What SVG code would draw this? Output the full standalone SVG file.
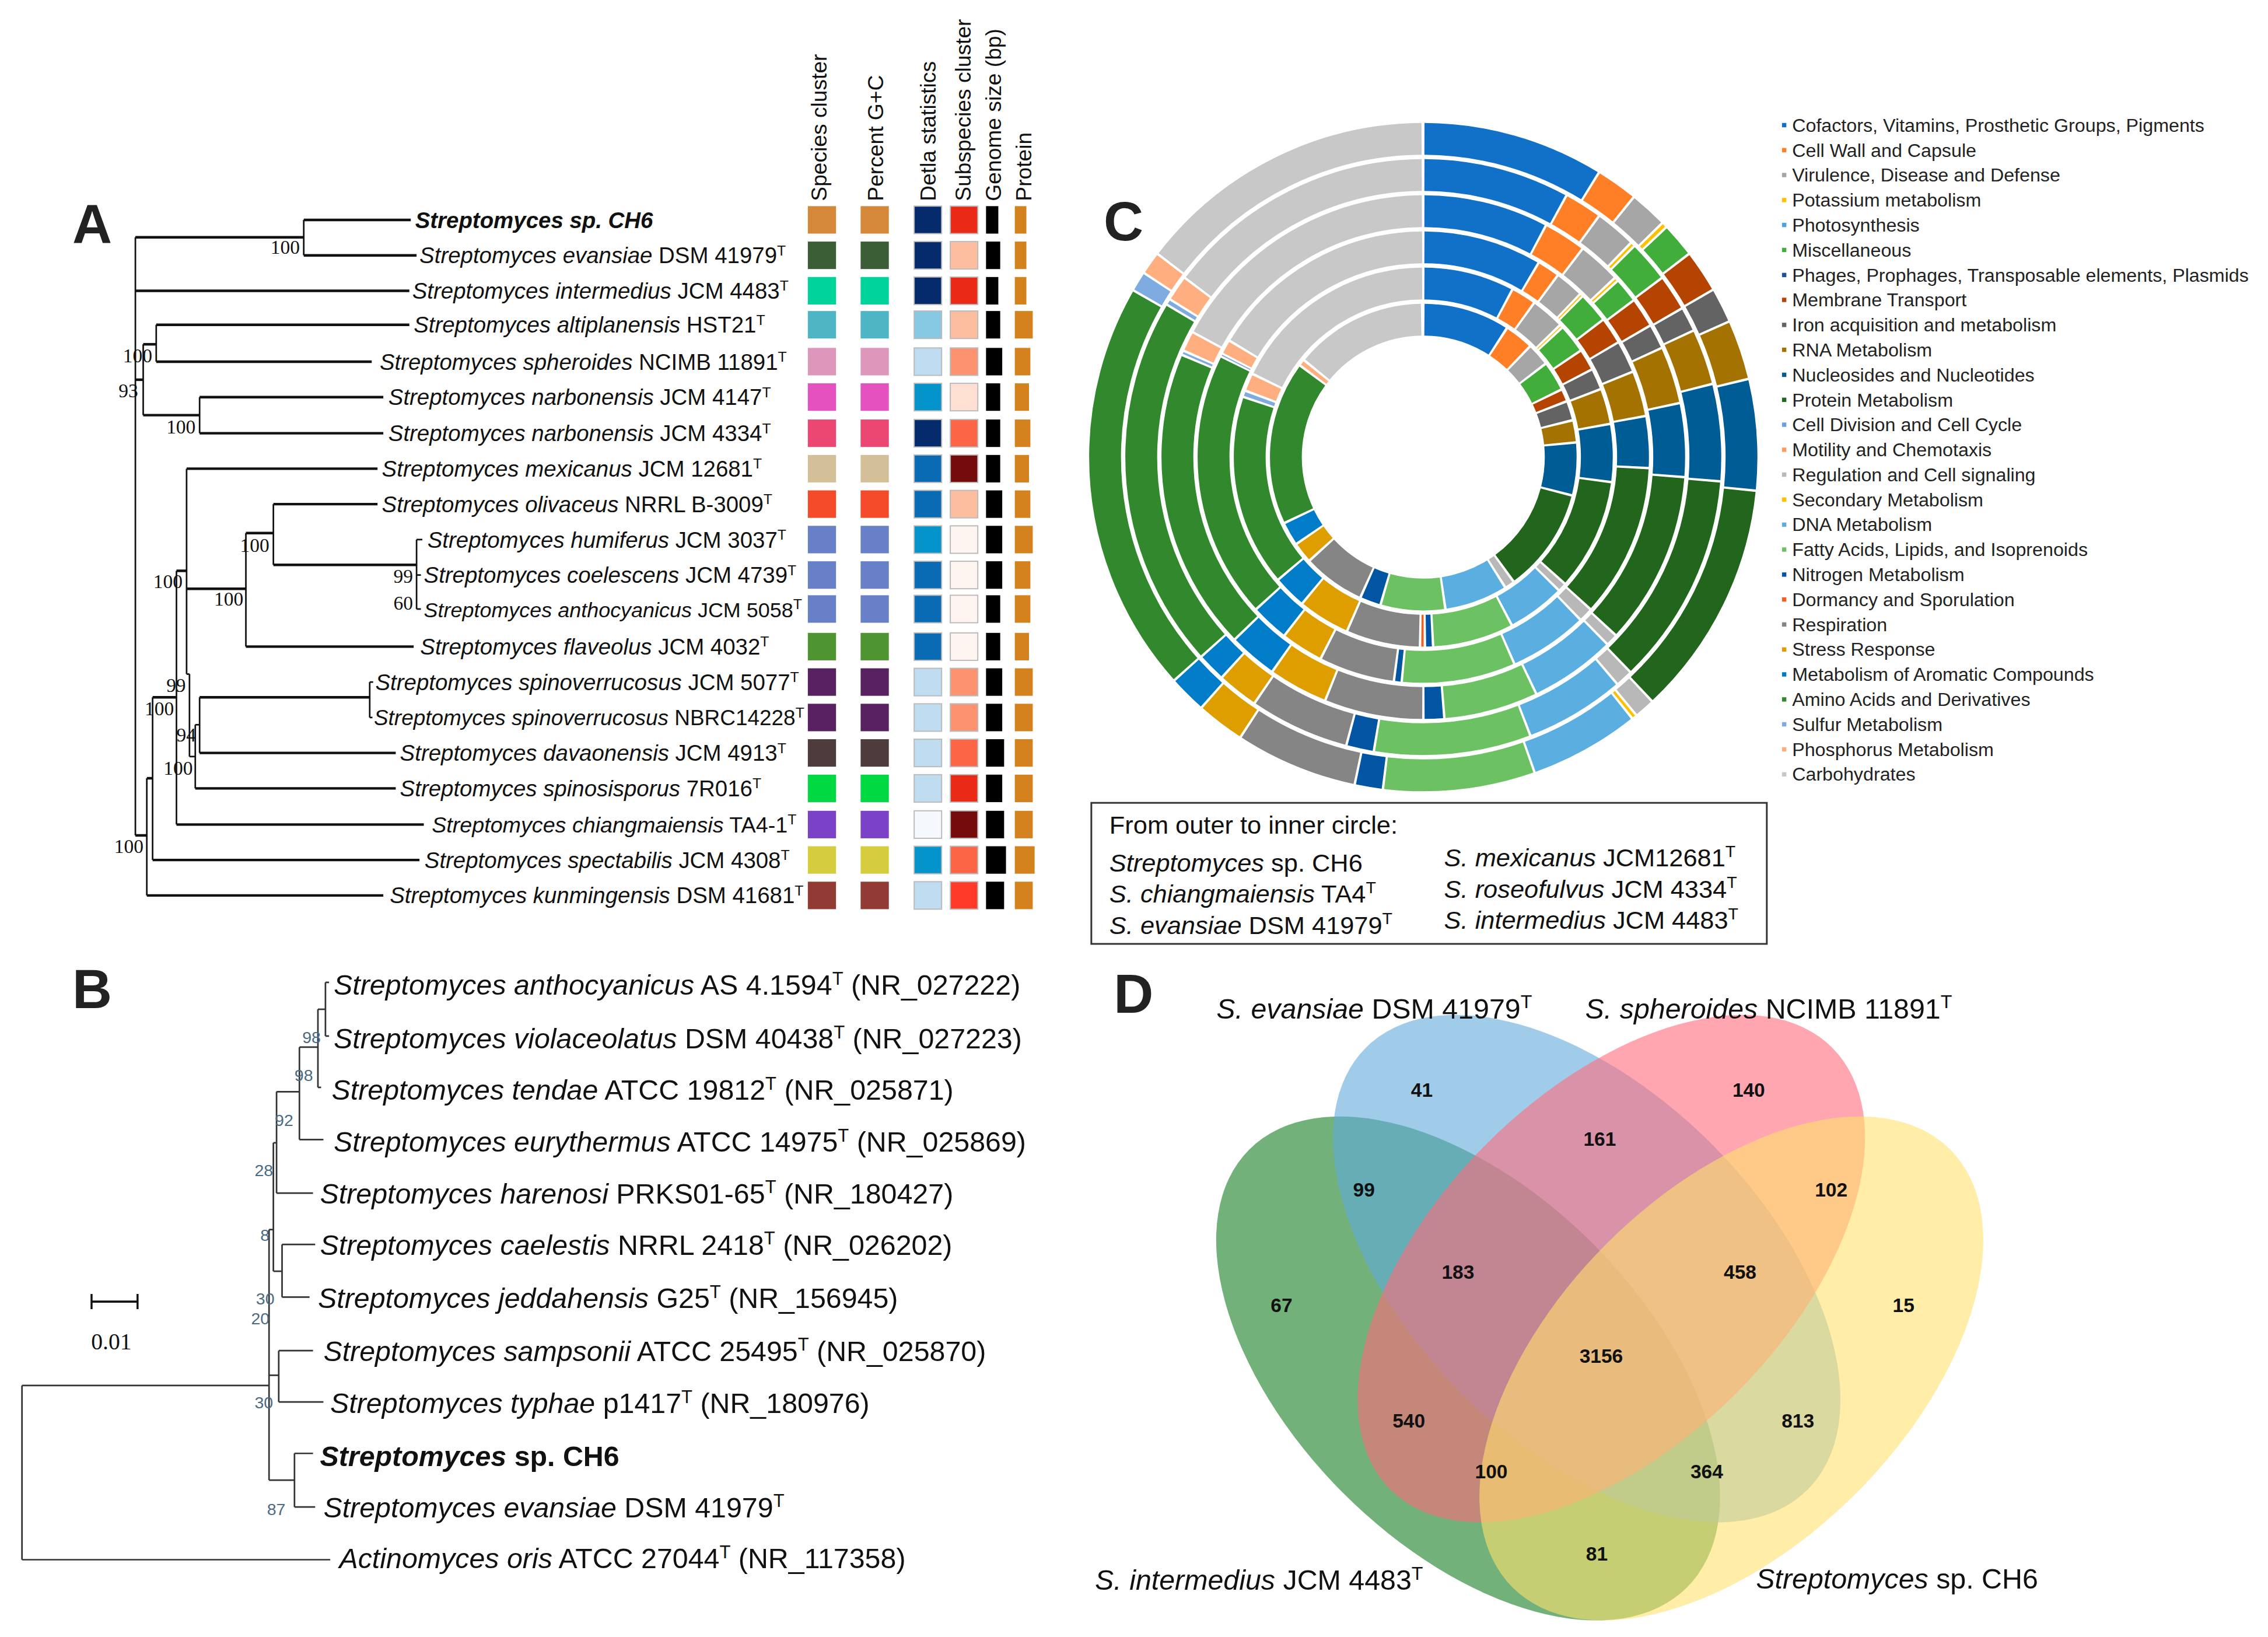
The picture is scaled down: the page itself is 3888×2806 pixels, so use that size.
<svg xmlns="http://www.w3.org/2000/svg" width="3888" height="2806" viewBox="0 0 3888 2806">
<style>
text{font-family:"Liberation Sans",Arial,sans-serif;fill:#111}
text.serif,.bs text{font-family:"Liberation Serif","Times New Roman",serif}
.i{font-style:italic}
.b{font-weight:bold}
.lbl{font-size:38px;font-weight:bold}
text.lbl{fill:#222}
.ta{font-size:15.5px}
.tb{font-size:19.5px}
.hdr{font-size:15px}
.bs{font-size:13.5px}
.bsb{font-size:11.5px}
.bsb text{fill:#4a6a85}
.lg{font-size:13px}
.lg text{fill:#222}
.bx{font-size:17.5px}
.vl{font-size:19.5px}
.vn{font-size:13.5px;font-weight:bold;text-anchor:middle}
.supA{font-size:10px}
.supB{font-size:12.5px}
.trA line{stroke:#111;stroke-width:1.8}
.trA line.v{stroke-width:1.1}
.trB line{stroke:#333;stroke-width:1.1}
.ring circle{fill:none;stroke-width:22}
.cof{stroke:#1170C8}.cw{stroke:#FF7F27}.vir{stroke:#A6A6A6}.pot{stroke:#FFC000}.misc{stroke:#41AD3A}
.mem{stroke:#B54400}.iron{stroke:#636363}.rna{stroke:#A47200}.nuc{stroke:#005C95}.prot{stroke:#22661E}
.reg{stroke:#B8B8B8}.sec{stroke:#FFC000}.dna{stroke:#5BAFE0}.fatty{stroke:#6CC162}.nitro{stroke:#0255A3}
.dorm{stroke:#F06020}.resp{stroke:#858585}.stress{stroke:#DE9E00}.arom{stroke:#007CC9}.amino{stroke:#32882D}
.sulf{stroke:#7EABE0}.phos{stroke:#FFAE80}.carb{stroke:#C8C8C8}
.cellb{stroke:#bbb;stroke-width:0.8}
</style>
<rect width="3888" height="2806" fill="#fff"/>
<g transform="scale(2.47959)">

<!-- ================= PANEL A ================= -->
<g id="panelA">
<text class="lbl" x="50" y="168">A</text>
<g id="A-connectors" class="trA">
<line class="v" x1="93.6" y1="164" x2="93.6" y2="577.5"/>
<line x1="93.6" y1="164" x2="210" y2="164"/>
<line class="v" x1="210" y1="152" x2="210" y2="176.5"/>
<line x1="210" y1="152" x2="284" y2="152"/>
<line x1="210" y1="176.5" x2="288" y2="176.5"/>
<line x1="93.6" y1="201" x2="283" y2="201"/>
<line x1="93.6" y1="262.5" x2="99" y2="262.5"/>
<line class="v" x1="99" y1="238" x2="99" y2="287"/>
<line x1="99" y1="238" x2="108" y2="238"/>
<line class="v" x1="108" y1="224.5" x2="108" y2="250"/>
<line x1="108" y1="224.5" x2="283" y2="224.5"/>
<line x1="108" y1="250" x2="257" y2="250"/>
<line x1="99" y1="287" x2="138" y2="287"/>
<line class="v" x1="138" y1="274.5" x2="138" y2="299.5"/>
<line x1="138" y1="274.5" x2="265" y2="274.5"/>
<line x1="138" y1="299.5" x2="265" y2="299.5"/>
<line x1="93.6" y1="577.5" x2="101.5" y2="577.5"/>
<line class="v" x1="101.5" y1="538" x2="101.5" y2="619"/>
<line x1="101.5" y1="619" x2="265" y2="619"/>
<line x1="101.5" y1="538" x2="105.5" y2="538"/>
<line class="v" x1="105.5" y1="482" x2="105.5" y2="594.5"/>
<line x1="105.5" y1="594.5" x2="290" y2="594.5"/>
<line x1="105.5" y1="482" x2="122" y2="482"/>
<line class="v" x1="122" y1="394.6" x2="122" y2="570"/>
<line x1="122" y1="570" x2="293" y2="570"/>
<line x1="122" y1="394.6" x2="129" y2="394.6"/>
<line class="v" x1="129" y1="324" x2="129" y2="466"/>
<line x1="129" y1="324" x2="261" y2="324"/>
<line x1="129" y1="407" x2="170" y2="407"/>
<line class="v" x1="170" y1="368.5" x2="170" y2="447"/>
<line x1="170" y1="447" x2="286" y2="447"/>
<line x1="170" y1="368.5" x2="189" y2="368.5"/>
<line class="v" x1="189" y1="348.5" x2="189" y2="390.5"/>
<line x1="189" y1="348.5" x2="261" y2="348.5"/>
<line x1="189" y1="390.5" x2="288" y2="390.5"/>
<line class="v" x1="288" y1="373" x2="288" y2="421"/>
<line class="v" x1="288" y1="373" x2="292" y2="373"/>
<line class="v" x1="288" y1="397.5" x2="291" y2="397.5"/>
<line class="v" x1="288" y1="421" x2="291" y2="421"/>
<line class="v" x1="129" y1="466" x2="131" y2="466"/>
<line class="v" x1="131" y1="466" x2="131" y2="523"/>
<line class="v" x1="131" y1="523" x2="135" y2="523"/>
<line class="v" x1="135" y1="501" x2="135" y2="545"/>
<line x1="135" y1="545" x2="273.6" y2="545"/>
<line class="v" x1="135" y1="501" x2="138" y2="501"/>
<line class="v" x1="138" y1="482" x2="138" y2="520.5"/>
<line x1="138" y1="482" x2="255.6" y2="482"/>
<line x1="138" y1="520.5" x2="273.6" y2="520.5"/>
<line class="v" x1="255.6" y1="471.5" x2="255.6" y2="496"/>
<line class="v" x1="255.6" y1="471.5" x2="258" y2="471.5"/>
<line class="v" x1="255.6" y1="496" x2="257.5" y2="496"/>
</g>
<g id="A-bootstrap" class="bs">
<text x="187" y="175.5">100</text>
<text x="85" y="250.5">100</text>
<text x="82" y="274.5">93</text>
<text x="115" y="299.5">100</text>
<text x="166" y="381.5">100</text>
<text x="272" y="403">99</text>
<text x="272" y="421.5">60</text>
<text x="106" y="406.5">100</text>
<text x="148" y="418.5">100</text>
<text x="115" y="478.5">99</text>
<text x="100" y="494.5">100</text>
<text x="122" y="512.5">94</text>
<text x="113" y="535.5">100</text>
<text x="79" y="589.5">100</text>
</g>
<g id="A-leaves" class="ta">
<text x="287" y="157.5" class="b i">Streptomyces sp. CH6</text>
<text x="290" y="182"><tspan class="i">Streptomyces evansiae</tspan> DSM 41979<tspan class="supA" dy="-5.5">T</tspan></text>
<text x="285" y="206.5"><tspan class="i">Streptomyces intermedius</tspan> JCM 4483<tspan class="supA" dy="-5.5">T</tspan></text>
<text x="286" y="230"><tspan class="i">Streptomyces altiplanensis</tspan> HST21<tspan class="supA" dy="-5.5">T</tspan></text>
<text x="262.5" y="255.5"><tspan class="i">Streptomyces spheroides</tspan> NCIMB 11891<tspan class="supA" dy="-5.5">T</tspan></text>
<text x="268.5" y="280"><tspan class="i">Streptomyces narbonensis</tspan> JCM 4147<tspan class="supA" dy="-5.5">T</tspan></text>
<text x="268.5" y="305"><tspan class="i">Streptomyces narbonensis</tspan> JCM 4334<tspan class="supA" dy="-5.5">T</tspan></text>
<text x="264" y="329.5"><tspan class="i">Streptomyces mexicanus</tspan> JCM 12681<tspan class="supA" dy="-5.5">T</tspan></text>
<text x="264" y="354"><tspan class="i">Streptomyces olivaceus</tspan> NRRL B-3009<tspan class="supA" dy="-5.5">T</tspan></text>
<text x="295.5" y="378.5"><tspan class="i">Streptomyces humiferus</tspan> JCM 3037<tspan class="supA" dy="-5.5">T</tspan></text>
<text x="293" y="403"><tspan class="i">Streptomyces coelescens</tspan> JCM 4739<tspan class="supA" dy="-5.5">T</tspan></text>
<text x="293" y="426.5" font-size="14.5"><tspan class="i">Streptomyces anthocyanicus</tspan> JCM 5058<tspan class="supA" dy="-5.5">T</tspan></text>
<text x="290.5" y="452.5"><tspan class="i">Streptomyces flaveolus</tspan> JCM 4032<tspan class="supA" dy="-5.5">T</tspan></text>
<text x="259.5" y="477"><tspan class="i">Streptomyces spinoverrucosus</tspan> JCM 5077<tspan class="supA" dy="-5.5">T</tspan></text>
<text x="258.5" y="501.5" font-size="14.9"><tspan class="i">Streptomyces spinoverrucosus</tspan> NBRC14228<tspan class="supA" dy="-5.5">T</tspan></text>
<text x="276.5" y="526"><tspan class="i">Streptomyces davaonensis</tspan> JCM 4913<tspan class="supA" dy="-5.5">T</tspan></text>
<text x="276.5" y="550.5"><tspan class="i">Streptomyces spinosisporus</tspan> 7R016<tspan class="supA" dy="-5.5">T</tspan></text>
<text x="298.5" y="575.5" font-size="15.2"><tspan class="i">Streptomyces chiangmaiensis</tspan> TA4-1<tspan class="supA" dy="-5.5">T</tspan></text>
<text x="293.5" y="600"><tspan class="i">Streptomyces spectabilis</tspan> JCM 4308<tspan class="supA" dy="-5.5">T</tspan></text>
<text x="269.5" y="624.5"><tspan class="i">Streptomyces kunmingensis</tspan> DSM 41681<tspan class="supA" dy="-5.5">T</tspan></text>
</g>
<g id="A-headers" class="hdr">
<text transform="translate(571.5,139) rotate(-90)">Species cluster</text>
<text transform="translate(610.5,139) rotate(-90)">Percent G+C</text>
<text transform="translate(647,139) rotate(-90)">Detla statistics</text>
<text transform="translate(671,139) rotate(-90)">Subspecies cluster</text>
<text transform="translate(692,139) rotate(-90)">Genome size (bp)</text>
<text transform="translate(713,139) rotate(-90)">Protein</text>
</g>
<g id="A-species-cluster">
<rect x="558.5" y="142.5" width="19.5" height="19" fill="#D5873A"/>
<rect x="558.5" y="167" width="19.5" height="19" fill="#3C5E36"/>
<rect x="558.5" y="191.5" width="19.5" height="19" fill="#00D39A"/>
<rect x="558.5" y="215" width="19.5" height="19" fill="#4DB5C3"/>
<rect x="558.5" y="240.5" width="19.5" height="19" fill="#DC97BB"/>
<rect x="558.5" y="265" width="19.5" height="19" fill="#E552C0"/>
<rect x="558.5" y="290" width="19.5" height="19" fill="#EC4672"/>
<rect x="558.5" y="314.5" width="19.5" height="19" fill="#D4C098"/>
<rect x="558.5" y="339" width="19.5" height="19" fill="#F64B2B"/>
<rect x="558.5" y="363.5" width="19.5" height="19" fill="#6880C7"/>
<rect x="558.5" y="388" width="19.5" height="19" fill="#6880C7"/>
<rect x="558.5" y="411.5" width="19.5" height="19" fill="#6880C7"/>
<rect x="558.5" y="437.5" width="19.5" height="19" fill="#4E9430"/>
<rect x="558.5" y="462" width="19.5" height="19" fill="#57225F"/>
<rect x="558.5" y="486.5" width="19.5" height="19" fill="#57225F"/>
<rect x="558.5" y="511" width="19.5" height="19" fill="#4D3C3B"/>
<rect x="558.5" y="535.5" width="19.5" height="19" fill="#00D942"/>
<rect x="558.5" y="560.5" width="19.5" height="19" fill="#7B42C8"/>
<rect x="558.5" y="585" width="19.5" height="19" fill="#D5CD3E"/>
<rect x="558.5" y="609.5" width="19.5" height="19" fill="#923B34"/>
</g>
<g id="A-gc">
<rect x="595" y="142.5" width="19.5" height="19" fill="#D5873A"/>
<rect x="595" y="167" width="19.5" height="19" fill="#3C5E36"/>
<rect x="595" y="191.5" width="19.5" height="19" fill="#00D39A"/>
<rect x="595" y="215" width="19.5" height="19" fill="#4DB5C3"/>
<rect x="595" y="240.5" width="19.5" height="19" fill="#DC97BB"/>
<rect x="595" y="265" width="19.5" height="19" fill="#E552C0"/>
<rect x="595" y="290" width="19.5" height="19" fill="#EC4672"/>
<rect x="595" y="314.5" width="19.5" height="19" fill="#D4C098"/>
<rect x="595" y="339" width="19.5" height="19" fill="#F64B2B"/>
<rect x="595" y="363.5" width="19.5" height="19" fill="#6880C7"/>
<rect x="595" y="388" width="19.5" height="19" fill="#6880C7"/>
<rect x="595" y="411.5" width="19.5" height="19" fill="#6880C7"/>
<rect x="595" y="437.5" width="19.5" height="19" fill="#4E9430"/>
<rect x="595" y="462" width="19.5" height="19" fill="#57225F"/>
<rect x="595" y="486.5" width="19.5" height="19" fill="#57225F"/>
<rect x="595" y="511" width="19.5" height="19" fill="#4D3C3B"/>
<rect x="595" y="535.5" width="19.5" height="19" fill="#00D942"/>
<rect x="595" y="560.5" width="19.5" height="19" fill="#7B42C8"/>
<rect x="595" y="585" width="19.5" height="19" fill="#D5CD3E"/>
<rect x="595" y="609.5" width="19.5" height="19" fill="#923B34"/>
</g>
<g id="A-delta" class="cellb">
<rect x="632" y="142.5" width="19" height="19" fill="#062B6C"/>
<rect x="632" y="167" width="19" height="19" fill="#062B6C"/>
<rect x="632" y="191.5" width="19" height="19" fill="#062B6C"/>
<rect x="632" y="215" width="19" height="19" fill="#87C8E2"/>
<rect x="632" y="240.5" width="19" height="19" fill="#BFDCF0"/>
<rect x="632" y="265" width="19" height="19" fill="#0294CB"/>
<rect x="632" y="290" width="19" height="19" fill="#062B6C"/>
<rect x="632" y="314.5" width="19" height="19" fill="#0A6BB5"/>
<rect x="632" y="339" width="19" height="19" fill="#0A6BB5"/>
<rect x="632" y="363.5" width="19" height="19" fill="#0294CB"/>
<rect x="632" y="388" width="19" height="19" fill="#0A6BB5"/>
<rect x="632" y="411.5" width="19" height="19" fill="#0A6BB5"/>
<rect x="632" y="437.5" width="19" height="19" fill="#0A6BB5"/>
<rect x="632" y="462" width="19" height="19" fill="#BFDCF0"/>
<rect x="632" y="486.5" width="19" height="19" fill="#BFDCF0"/>
<rect x="632" y="511" width="19" height="19" fill="#BFDCF0"/>
<rect x="632" y="535.5" width="19" height="19" fill="#BFDCF0"/>
<rect x="632" y="560.5" width="19" height="19" fill="#F5F9FD"/>
<rect x="632" y="585" width="19" height="19" fill="#0294CB"/>
<rect x="632" y="609.5" width="19" height="19" fill="#BFDCF0"/>
</g>
<g id="A-subspecies" class="cellb">
<rect x="657" y="142.5" width="19" height="19" fill="#EA2A16"/>
<rect x="657" y="167" width="19" height="19" fill="#FDBEA0"/>
<rect x="657" y="191.5" width="19" height="19" fill="#EA2A16"/>
<rect x="657" y="215" width="19" height="19" fill="#FDBEA0"/>
<rect x="657" y="240.5" width="19" height="19" fill="#FC926F"/>
<rect x="657" y="265" width="19" height="19" fill="#FEE0D2"/>
<rect x="657" y="290" width="19" height="19" fill="#FC6647"/>
<rect x="657" y="314.5" width="19" height="19" fill="#750B0B"/>
<rect x="657" y="339" width="19" height="19" fill="#FDBEA0"/>
<rect x="657" y="363.5" width="19" height="19" fill="#FFF5F0"/>
<rect x="657" y="388" width="19" height="19" fill="#FFF5F0"/>
<rect x="657" y="411.5" width="19" height="19" fill="#FFF5F0"/>
<rect x="657" y="437.5" width="19" height="19" fill="#FFF5F0"/>
<rect x="657" y="462" width="19" height="19" fill="#FC926F"/>
<rect x="657" y="486.5" width="19" height="19" fill="#FC926F"/>
<rect x="657" y="511" width="19" height="19" fill="#FC6647"/>
<rect x="657" y="535.5" width="19" height="19" fill="#EA2A16"/>
<rect x="657" y="560.5" width="19" height="19" fill="#750B0B"/>
<rect x="657" y="585" width="19" height="19" fill="#FC6647"/>
<rect x="657" y="609.5" width="19" height="19" fill="#FF3A28"/>
</g>
<g id="A-genome" fill="#000">
<rect x="681.7" y="142.5" width="8.5" height="19"/>
<rect x="681.7" y="167" width="9.8" height="19"/>
<rect x="681.7" y="191.5" width="8.5" height="19"/>
<rect x="681.7" y="215" width="9.8" height="19"/>
<rect x="681.7" y="240.5" width="11.2" height="19"/>
<rect x="681.7" y="265" width="9.8" height="19"/>
<rect x="681.7" y="290" width="9.8" height="19"/>
<rect x="681.7" y="314.5" width="9.8" height="19"/>
<rect x="681.7" y="339" width="11.2" height="19"/>
<rect x="681.7" y="363.5" width="11.2" height="19"/>
<rect x="681.7" y="388" width="11.2" height="19"/>
<rect x="681.7" y="411.5" width="9.8" height="19"/>
<rect x="681.7" y="437.5" width="9.8" height="19"/>
<rect x="681.7" y="462" width="11.2" height="19"/>
<rect x="681.7" y="486.5" width="11.2" height="19"/>
<rect x="681.7" y="511" width="12.5" height="19"/>
<rect x="681.7" y="535.5" width="11.2" height="19"/>
<rect x="681.7" y="560.5" width="12.5" height="19"/>
<rect x="681.7" y="585" width="13.8" height="19"/>
<rect x="681.7" y="609.5" width="12.5" height="19"/>
</g>
<g id="A-protein" fill="#D4821E">
<rect x="701.6" y="142.5" width="8" height="19"/>
<rect x="701.6" y="167" width="8" height="19"/>
<rect x="701.6" y="191.5" width="8" height="19"/>
<rect x="701.6" y="215" width="12.4" height="19"/>
<rect x="701.6" y="240.5" width="10.75" height="19"/>
<rect x="701.6" y="265" width="9.8" height="19"/>
<rect x="701.6" y="290" width="10.75" height="19"/>
<rect x="701.6" y="314.5" width="9.8" height="19"/>
<rect x="701.6" y="339" width="10.75" height="19"/>
<rect x="701.6" y="363.5" width="12.4" height="19"/>
<rect x="701.6" y="388" width="10.75" height="19"/>
<rect x="701.6" y="411.5" width="10.75" height="19"/>
<rect x="701.6" y="437.5" width="9.8" height="19"/>
<rect x="701.6" y="462" width="12.4" height="19"/>
<rect x="701.6" y="486.5" width="12.4" height="19"/>
<rect x="701.6" y="511" width="12.4" height="19"/>
<rect x="701.6" y="535.5" width="12.4" height="19"/>
<rect x="701.6" y="560.5" width="12.4" height="19"/>
<rect x="701.6" y="585" width="13.7" height="19"/>
<rect x="701.6" y="609.5" width="12.4" height="19"/>
</g>
</g>

<!-- ================= PANEL B ================= -->
<g id="panelB">
<text class="lbl" x="50" y="697">B</text>
<g id="B-connectors" class="trB">
<line x1="15.2" y1="957.8" x2="186" y2="957.8"/>
<line x1="15.2" y1="957.8" x2="15.2" y2="1078.2"/>
<line x1="15.2" y1="1078.2" x2="228.3" y2="1078.2"/>
<line x1="186" y1="850" x2="186" y2="1023.2"/>
<line x1="186" y1="1023.2" x2="203.6" y2="1023.2"/>
<line x1="203.6" y1="1004.7" x2="203.6" y2="1041.8"/>
<line x1="203.6" y1="1004.7" x2="216.4" y2="1004.7"/>
<line x1="203.6" y1="1041.8" x2="217.9" y2="1041.8"/>
<line x1="186" y1="950.7" x2="192.7" y2="950.7"/>
<line x1="192.7" y1="933.7" x2="192.7" y2="969.2"/>
<line x1="192.7" y1="933.7" x2="216.4" y2="933.7"/>
<line x1="192.7" y1="969.2" x2="223.6" y2="969.2"/>
<line x1="186" y1="850" x2="189" y2="850"/>
<line x1="189" y1="790" x2="189" y2="878.8" stroke-width="1.8"/>
<line x1="189" y1="878.8" x2="195" y2="878.8"/>
<line x1="195" y1="860.3" x2="195" y2="896.7"/>
<line x1="195" y1="860.3" x2="217.9" y2="860.3"/>
<line x1="195" y1="896.7" x2="214" y2="896.7"/>
<line x1="189" y1="790" x2="191.2" y2="790"/>
<line x1="191.2" y1="754.7" x2="191.2" y2="824.8"/>
<line x1="191.2" y1="824.8" x2="216.4" y2="824.8"/>
<line x1="191.2" y1="754.7" x2="207" y2="754.7"/>
<line x1="207" y1="723.9" x2="207" y2="787.8"/>
<line x1="207" y1="787.8" x2="223.6" y2="787.8"/>
<line x1="207" y1="723.9" x2="219.8" y2="723.9"/>
<line x1="219.8" y1="697.7" x2="219.8" y2="751.7"/>
<line x1="219.8" y1="751.7" x2="222" y2="751.7"/>
<line x1="219.8" y1="697.7" x2="225" y2="697.7"/>
<line x1="225" y1="679.1" x2="225" y2="716.2"/>
<line x1="225" y1="679.1" x2="227.5" y2="679.1"/>
<line x1="225" y1="716.2" x2="227.5" y2="716.2"/>
</g>
<g id="B-scale">
<line x1="63.3" y1="899.8" x2="95.1" y2="899.8" stroke="#111" stroke-width="1.6"/>
<line x1="63.3" y1="894.5" x2="63.3" y2="905" stroke="#111" stroke-width="1.4"/>
<line x1="95.1" y1="894.5" x2="95.1" y2="905" stroke="#111" stroke-width="1.4"/>
<text class="serif" x="63" y="933" font-size="16">0.01</text>
</g>
<g id="B-bootstrap" class="bsb">
<text x="209" y="721">98</text>
<text x="203.6" y="747.5">98</text>
<text x="190" y="778.4">92</text>
<text x="176" y="813">28</text>
<text x="180" y="857.7">8</text>
<text x="177" y="901.8">30</text>
<text x="173.6" y="915.4">20</text>
<text x="176" y="973.4">30</text>
<text x="184.6" y="1047.5">87</text>
</g>
<g id="B-leaves" class="tb">
<text x="230.7" y="687.7"><tspan class="i">Streptomyces anthocyanicus</tspan> AS 4.1594<tspan class="supB" dy="-7">T</tspan><tspan dy="7"> (NR_027222)</tspan></text>
<text x="230.7" y="724.7"><tspan class="i">Streptomyces violaceolatus</tspan> DSM 40438<tspan class="supB" dy="-7">T</tspan><tspan dy="7"> (NR_027223)</tspan></text>
<text x="229.3" y="760.2"><tspan class="i">Streptomyces tendae</tspan> ATCC 19812<tspan class="supB" dy="-7">T</tspan><tspan dy="7"> (NR_025871)</tspan></text>
<text x="230.7" y="796.3"><tspan class="i">Streptomyces eurythermus</tspan> ATCC 14975<tspan class="supB" dy="-7">T</tspan><tspan dy="7"> (NR_025869)</tspan></text>
<text x="221.2" y="831.8"><tspan class="i">Streptomyces harenosi</tspan> PRKS01-65<tspan class="supB" dy="-7">T</tspan><tspan dy="7"> (NR_180427)</tspan></text>
<text x="221.2" y="867.3"><tspan class="i">Streptomyces caelestis</tspan> NRRL 2418<tspan class="supB" dy="-7">T</tspan><tspan dy="7"> (NR_026202)</tspan></text>
<text x="219.8" y="904.3"><tspan class="i">Streptomyces jeddahensis</tspan> G25<tspan class="supB" dy="-7">T</tspan><tspan dy="7"> (NR_156945)</tspan></text>
<text x="223.6" y="940.7"><tspan class="i">Streptomyces sampsonii</tspan> ATCC 25495<tspan class="supB" dy="-7">T</tspan><tspan dy="7"> (NR_025870)</tspan></text>
<text x="228.3" y="976.8"><tspan class="i">Streptomyces typhae</tspan> p1417<tspan class="supB" dy="-7">T</tspan><tspan dy="7"> (NR_180976)</tspan></text>
<text x="221.2" y="1013.3" class="b"><tspan class="i">Streptomyces</tspan> sp. CH6</text>
<text x="223.6" y="1048.8"><tspan class="i">Streptomyces evansiae</tspan> DSM 41979<tspan class="supB" dy="-7">T</tspan></text>
<text x="234.5" y="1084.2"><tspan class="i">Actinomyces oris</tspan> ATCC 27044<tspan class="supB" dy="-7">T</tspan><tspan dy="7"> (NR_117358)</tspan></text>
</g>
</g>

<!-- ================= PANEL C ================= -->
<g id="panelC">
<text class="lbl" x="763" y="166">C</text>
<g id="donut" class="ring" transform="translate(984,316) rotate(-90)">
<g id="ring0">
<circle r="220" pathLength="360" class="cof" stroke-dasharray="31.28 400" stroke-dashoffset="-0.21"/>
<circle r="220" pathLength="360" class="cw" stroke-dasharray="6.88 400" stroke-dashoffset="-31.91"/>
<circle r="220" pathLength="360" class="vir" stroke-dasharray="6.18 400" stroke-dashoffset="-39.21"/>
<circle r="220" pathLength="360" class="pot" stroke-dasharray="0.58 400" stroke-dashoffset="-45.81"/>
<circle r="220" pathLength="360" class="misc" stroke-dasharray="5.58 400" stroke-dashoffset="-46.81"/>
<circle r="220" pathLength="360" class="mem" stroke-dasharray="6.98 400" stroke-dashoffset="-52.81"/>
<circle r="220" pathLength="360" class="iron" stroke-dasharray="5.68 400" stroke-dashoffset="-60.21"/>
<circle r="220" pathLength="360" class="rna" stroke-dasharray="9.98 400" stroke-dashoffset="-66.31"/>
<circle r="220" pathLength="360" class="nuc" stroke-dasharray="18.88 400" stroke-dashoffset="-76.71"/>
<circle r="220" pathLength="360" class="prot" stroke-dasharray="40.68 400" stroke-dashoffset="-96.01"/>
<circle r="220" pathLength="360" class="reg" stroke-dasharray="3.18 400" stroke-dashoffset="-137.11"/>
<circle r="220" pathLength="360" class="sec" stroke-dasharray="0.48 400" stroke-dashoffset="-140.71"/>
<circle r="220" pathLength="360" class="dna" stroke-dasharray="18.78 400" stroke-dashoffset="-141.61"/>
<circle r="220" pathLength="360" class="fatty" stroke-dasharray="25.98 400" stroke-dashoffset="-160.81"/>
<circle r="220" pathLength="360" class="nitro" stroke-dasharray="4.48 400" stroke-dashoffset="-187.21"/>
<circle r="220" pathLength="360" class="resp" stroke-dasharray="20.88 400" stroke-dashoffset="-192.11"/>
<circle r="220" pathLength="360" class="stress" stroke-dasharray="7.98 400" stroke-dashoffset="-213.41"/>
<circle r="220" pathLength="360" class="arom" stroke-dasharray="6.18 400" stroke-dashoffset="-221.81"/>
<circle r="220" pathLength="360" class="amino" stroke-dasharray="71.38 400" stroke-dashoffset="-228.41"/>
<circle r="220" pathLength="360" class="sulf" stroke-dasharray="3.08 400" stroke-dashoffset="-300.21"/>
<circle r="220" pathLength="360" class="phos" stroke-dasharray="3.58 400" stroke-dashoffset="-303.71"/>
<circle r="220" pathLength="360" class="carb" stroke-dasharray="52.08 400" stroke-dashoffset="-307.71"/>
</g>
<g id="ring1">
<circle r="195" pathLength="360" class="cof" stroke-dasharray="28.23 400" stroke-dashoffset="-0.235"/>
<circle r="195" pathLength="360" class="cw" stroke-dasharray="6.93 400" stroke-dashoffset="-28.935"/>
<circle r="195" pathLength="360" class="vir" stroke-dasharray="7.53 400" stroke-dashoffset="-36.335"/>
<circle r="195" pathLength="360" class="pot" stroke-dasharray="0.43 400" stroke-dashoffset="-44.335"/>
<circle r="195" pathLength="360" class="misc" stroke-dasharray="7.63 400" stroke-dashoffset="-45.235"/>
<circle r="195" pathLength="360" class="mem" stroke-dasharray="6.53 400" stroke-dashoffset="-53.335"/>
<circle r="195" pathLength="360" class="iron" stroke-dasharray="4.33 400" stroke-dashoffset="-60.335"/>
<circle r="195" pathLength="360" class="rna" stroke-dasharray="10.43 400" stroke-dashoffset="-65.135"/>
<circle r="195" pathLength="360" class="nuc" stroke-dasharray="18.43 400" stroke-dashoffset="-76.035"/>
<circle r="195" pathLength="360" class="prot" stroke-dasharray="40.93 400" stroke-dashoffset="-94.935"/>
<circle r="195" pathLength="360" class="reg" stroke-dasharray="2.93 400" stroke-dashoffset="-136.335"/>
<circle r="195" pathLength="360" class="dna" stroke-dasharray="19.03 400" stroke-dashoffset="-139.735"/>
<circle r="195" pathLength="360" class="fatty" stroke-dasharray="30.13 400" stroke-dashoffset="-159.235"/>
<circle r="195" pathLength="360" class="nitro" stroke-dasharray="4.93 400" stroke-dashoffset="-189.835"/>
<circle r="195" pathLength="360" class="resp" stroke-dasharray="19.03 400" stroke-dashoffset="-195.235"/>
<circle r="195" pathLength="360" class="stress" stroke-dasharray="7.53 400" stroke-dashoffset="-214.735"/>
<circle r="195" pathLength="360" class="arom" stroke-dasharray="5.13 400" stroke-dashoffset="-222.735"/>
<circle r="195" pathLength="360" class="amino" stroke-dasharray="72.23 400" stroke-dashoffset="-228.335"/>
<circle r="195" pathLength="360" class="sulf" stroke-dasharray="0.73 400" stroke-dashoffset="-301.035"/>
<circle r="195" pathLength="360" class="phos" stroke-dasharray="4.53 400" stroke-dashoffset="-302.235"/>
<circle r="195" pathLength="360" class="carb" stroke-dasharray="52.53 400" stroke-dashoffset="-307.235"/>
</g>
<g id="ring2">
<circle r="170" pathLength="360" class="cof" stroke-dasharray="27.36 400" stroke-dashoffset="-0.27"/>
<circle r="170" pathLength="360" class="cw" stroke-dasharray="8.96 400" stroke-dashoffset="-28.17"/>
<circle r="170" pathLength="360" class="vir" stroke-dasharray="8.96 400" stroke-dashoffset="-37.67"/>
<circle r="170" pathLength="360" class="pot" stroke-dasharray="0.36 400" stroke-dashoffset="-47.17"/>
<circle r="170" pathLength="360" class="misc" stroke-dasharray="4.96 400" stroke-dashoffset="-48.07"/>
<circle r="170" pathLength="360" class="mem" stroke-dasharray="6.06 400" stroke-dashoffset="-53.57"/>
<circle r="170" pathLength="360" class="iron" stroke-dasharray="4.96 400" stroke-dashoffset="-60.17"/>
<circle r="170" pathLength="360" class="rna" stroke-dasharray="12.16 400" stroke-dashoffset="-65.67"/>
<circle r="170" pathLength="360" class="nuc" stroke-dasharray="15.76 400" stroke-dashoffset="-78.37"/>
<circle r="170" pathLength="360" class="prot" stroke-dasharray="37.86 400" stroke-dashoffset="-94.67"/>
<circle r="170" pathLength="360" class="reg" stroke-dasharray="2.16 400" stroke-dashoffset="-133.07"/>
<circle r="170" pathLength="360" class="dna" stroke-dasharray="18.46 400" stroke-dashoffset="-135.77"/>
<circle r="170" pathLength="360" class="fatty" stroke-dasharray="20.36 400" stroke-dashoffset="-154.77"/>
<circle r="170" pathLength="360" class="nitro" stroke-dasharray="4.06 400" stroke-dashoffset="-175.67"/>
<circle r="170" pathLength="360" class="resp" stroke-dasharray="21.46 400" stroke-dashoffset="-180.27"/>
<circle r="170" pathLength="360" class="stress" stroke-dasharray="12.66 400" stroke-dashoffset="-202.27"/>
<circle r="170" pathLength="360" class="arom" stroke-dasharray="10.26 400" stroke-dashoffset="-215.47"/>
<circle r="170" pathLength="360" class="amino" stroke-dasharray="66.46 400" stroke-dashoffset="-226.27"/>
<circle r="170" pathLength="360" class="sulf" stroke-dasharray="0.46 400" stroke-dashoffset="-293.27"/>
<circle r="170" pathLength="360" class="phos" stroke-dasharray="3.96 400" stroke-dashoffset="-294.27"/>
<circle r="170" pathLength="360" class="carb" stroke-dasharray="60.96 400" stroke-dashoffset="-298.77"/>
</g>
<g id="ring3">
<circle r="145" pathLength="360" class="cof" stroke-dasharray="30.07 400" stroke-dashoffset="-0.315"/>
<circle r="145" pathLength="360" class="cw" stroke-dasharray="5.17 400" stroke-dashoffset="-31.015"/>
<circle r="145" pathLength="360" class="vir" stroke-dasharray="6.77 400" stroke-dashoffset="-36.815"/>
<circle r="145" pathLength="360" class="pot" stroke-dasharray="0.3 400" stroke-dashoffset="-44.15"/>
<circle r="145" pathLength="360" class="misc" stroke-dasharray="7.27 400" stroke-dashoffset="-45.015"/>
<circle r="145" pathLength="360" class="mem" stroke-dasharray="6.27 400" stroke-dashoffset="-52.915"/>
<circle r="145" pathLength="360" class="iron" stroke-dasharray="7.67 400" stroke-dashoffset="-59.815"/>
<circle r="145" pathLength="360" class="rna" stroke-dasharray="11.07 400" stroke-dashoffset="-68.115"/>
<circle r="145" pathLength="360" class="nuc" stroke-dasharray="12.67 400" stroke-dashoffset="-79.815"/>
<circle r="145" pathLength="360" class="prot" stroke-dasharray="38.87 400" stroke-dashoffset="-93.115"/>
<circle r="145" pathLength="360" class="reg" stroke-dasharray="3.07 400" stroke-dashoffset="-132.615"/>
<circle r="145" pathLength="360" class="dna" stroke-dasharray="19.57 400" stroke-dashoffset="-136.315"/>
<circle r="145" pathLength="360" class="fatty" stroke-dasharray="28.67 400" stroke-dashoffset="-156.515"/>
<circle r="145" pathLength="360" class="nitro" stroke-dasharray="1.37 400" stroke-dashoffset="-185.815"/>
<circle r="145" pathLength="360" class="resp" stroke-dasharray="18.87 400" stroke-dashoffset="-187.815"/>
<circle r="145" pathLength="360" class="stress" stroke-dasharray="10.27 400" stroke-dashoffset="-207.315"/>
<circle r="145" pathLength="360" class="arom" stroke-dasharray="9.17 400" stroke-dashoffset="-218.215"/>
<circle r="145" pathLength="360" class="amino" stroke-dasharray="68.17 400" stroke-dashoffset="-228.015"/>
<circle r="145" pathLength="360" class="sulf" stroke-dasharray="0.3 400" stroke-dashoffset="-296.7"/>
<circle r="145" pathLength="360" class="phos" stroke-dasharray="3.17 400" stroke-dashoffset="-297.515"/>
<circle r="145" pathLength="360" class="carb" stroke-dasharray="58.37 400" stroke-dashoffset="-301.315"/>
</g>
<g id="ring4">
<circle r="120" pathLength="360" class="cof" stroke-dasharray="27.24 400" stroke-dashoffset="-0.38"/>
<circle r="120" pathLength="360" class="cw" stroke-dasharray="6.94 400" stroke-dashoffset="-28.38"/>
<circle r="120" pathLength="360" class="vir" stroke-dasharray="9.54 400" stroke-dashoffset="-36.08"/>
<circle r="120" pathLength="360" class="pot" stroke-dasharray="0.3 400" stroke-dashoffset="-46.35"/>
<circle r="120" pathLength="360" class="misc" stroke-dasharray="8.14 400" stroke-dashoffset="-47.38"/>
<circle r="120" pathLength="360" class="mem" stroke-dasharray="5.84 400" stroke-dashoffset="-56.28"/>
<circle r="120" pathLength="360" class="iron" stroke-dasharray="5.74 400" stroke-dashoffset="-62.88"/>
<circle r="120" pathLength="360" class="rna" stroke-dasharray="10.14 400" stroke-dashoffset="-69.38"/>
<circle r="120" pathLength="360" class="nuc" stroke-dasharray="16.94 400" stroke-dashoffset="-80.28"/>
<circle r="120" pathLength="360" class="prot" stroke-dasharray="33.44 400" stroke-dashoffset="-97.98"/>
<circle r="120" pathLength="360" class="reg" stroke-dasharray="1.94 400" stroke-dashoffset="-132.18"/>
<circle r="120" pathLength="360" class="dna" stroke-dasharray="16.94 400" stroke-dashoffset="-134.88"/>
<circle r="120" pathLength="360" class="fatty" stroke-dasharray="24.04 400" stroke-dashoffset="-152.58"/>
<circle r="120" pathLength="360" class="nitro" stroke-dasharray="1.74 400" stroke-dashoffset="-177.38"/>
<circle r="120" pathLength="360" class="dorm" stroke-dasharray="0.74 400" stroke-dashoffset="-179.88"/>
<circle r="120" pathLength="360" class="resp" stroke-dasharray="21.94 400" stroke-dashoffset="-181.38"/>
<circle r="120" pathLength="360" class="stress" stroke-dasharray="15.14 400" stroke-dashoffset="-204.08"/>
<circle r="120" pathLength="360" class="arom" stroke-dasharray="9.44 400" stroke-dashoffset="-219.98"/>
<circle r="120" pathLength="360" class="amino" stroke-dasharray="57.94 400" stroke-dashoffset="-230.18"/>
<circle r="120" pathLength="360" class="sulf" stroke-dasharray="1.24 400" stroke-dashoffset="-288.88"/>
<circle r="120" pathLength="360" class="phos" stroke-dasharray="4.74 400" stroke-dashoffset="-290.88"/>
<circle r="120" pathLength="360" class="carb" stroke-dasharray="63.24 400" stroke-dashoffset="-296.38"/>
</g>
<g id="ring5">
<circle r="95" pathLength="360" class="cof" stroke-dasharray="32.03 400" stroke-dashoffset="-0.485"/>
<circle r="95" pathLength="360" class="cw" stroke-dasharray="10.03 400" stroke-dashoffset="-33.485"/>
<circle r="95" pathLength="360" class="vir" stroke-dasharray="7.73 400" stroke-dashoffset="-44.485"/>
<circle r="95" pathLength="360" class="misc" stroke-dasharray="10.33 400" stroke-dashoffset="-53.185"/>
<circle r="95" pathLength="360" class="mem" stroke-dasharray="3.83 400" stroke-dashoffset="-64.485"/>
<circle r="95" pathLength="360" class="iron" stroke-dasharray="6.43 400" stroke-dashoffset="-69.285"/>
<circle r="95" pathLength="360" class="rna" stroke-dasharray="7.43 400" stroke-dashoffset="-76.685"/>
<circle r="95" pathLength="360" class="nuc" stroke-dasharray="19.03 400" stroke-dashoffset="-85.085"/>
<circle r="95" pathLength="360" class="prot" stroke-dasharray="38.63 400" stroke-dashoffset="-105.085"/>
<circle r="95" pathLength="360" class="reg" stroke-dasharray="2.83 400" stroke-dashoffset="-144.685"/>
<circle r="95" pathLength="360" class="dna" stroke-dasharray="22.93 400" stroke-dashoffset="-148.485"/>
<circle r="95" pathLength="360" class="fatty" stroke-dasharray="23.53 400" stroke-dashoffset="-172.385"/>
<circle r="95" pathLength="360" class="nitro" stroke-dasharray="7.03 400" stroke-dashoffset="-196.885"/>
<circle r="95" pathLength="360" class="resp" stroke-dasharray="22.63 400" stroke-dashoffset="-204.885"/>
<circle r="95" pathLength="360" class="stress" stroke-dasharray="6.93 400" stroke-dashoffset="-228.485"/>
<circle r="95" pathLength="360" class="arom" stroke-dasharray="8.03 400" stroke-dashoffset="-236.385"/>
<circle r="95" pathLength="360" class="amino" stroke-dasharray="61.13 400" stroke-dashoffset="-245.385"/>
<circle r="95" pathLength="360" class="phos" stroke-dasharray="1.53 400" stroke-dashoffset="-307.485"/>
<circle r="95" pathLength="360" class="carb" stroke-dasharray="49.53 400" stroke-dashoffset="-309.985"/>
</g>
</g>
<g id="C-legend" class="lg">
<rect x="1232" y="85" width="3" height="3" fill="#1170C8"/><text x="1239" y="91">Cofactors, Vitamins, Prosthetic Groups, Pigments</text>
<rect x="1232" y="102.3" width="3" height="3" fill="#FF7F27"/><text x="1239" y="108.3">Cell Wall and Capsule</text>
<rect x="1232" y="119.5" width="3" height="3" fill="#A6A6A6"/><text x="1239" y="125.5">Virulence, Disease and Defense</text>
<rect x="1232" y="136.8" width="3" height="3" fill="#FFC000"/><text x="1239" y="142.8">Potassium metabolism</text>
<rect x="1232" y="154" width="3" height="3" fill="#4BA3E0"/><text x="1239" y="160">Photosynthesis</text>
<rect x="1232" y="171.3" width="3" height="3" fill="#41AD3A"/><text x="1239" y="177.3">Miscellaneous</text>
<rect x="1232" y="188.6" width="3" height="3" fill="#1F4E9C"/><text x="1239" y="194.6">Phages, Prophages, Transposable elements, Plasmids</text>
<rect x="1232" y="205.8" width="3" height="3" fill="#B54400"/><text x="1239" y="211.8">Membrane Transport</text>
<rect x="1232" y="223.1" width="3" height="3" fill="#636363"/><text x="1239" y="229.1">Iron acquisition and metabolism</text>
<rect x="1232" y="240.3" width="3" height="3" fill="#A47200"/><text x="1239" y="246.3">RNA Metabolism</text>
<rect x="1232" y="257.6" width="3" height="3" fill="#005C95"/><text x="1239" y="263.6">Nucleosides and Nucleotides</text>
<rect x="1232" y="274.9" width="3" height="3" fill="#22661E"/><text x="1239" y="280.9">Protein Metabolism</text>
<rect x="1232" y="292.1" width="3" height="3" fill="#6CA0DC"/><text x="1239" y="298.1">Cell Division and Cell Cycle</text>
<rect x="1232" y="309.4" width="3" height="3" fill="#FF9A5A"/><text x="1239" y="315.4">Motility and Chemotaxis</text>
<rect x="1232" y="326.6" width="3" height="3" fill="#B8B8B8"/><text x="1239" y="332.6">Regulation and Cell signaling</text>
<rect x="1232" y="343.9" width="3" height="3" fill="#FFC000"/><text x="1239" y="349.9">Secondary Metabolism</text>
<rect x="1232" y="361.2" width="3" height="3" fill="#5BAFE0"/><text x="1239" y="367.2">DNA Metabolism</text>
<rect x="1232" y="378.4" width="3" height="3" fill="#6CC162"/><text x="1239" y="384.4">Fatty Acids, Lipids, and Isoprenoids</text>
<rect x="1232" y="395.7" width="3" height="3" fill="#0255A3"/><text x="1239" y="401.7">Nitrogen Metabolism</text>
<rect x="1232" y="412.9" width="3" height="3" fill="#F06020"/><text x="1239" y="418.9">Dormancy and Sporulation</text>
<rect x="1232" y="430.2" width="3" height="3" fill="#858585"/><text x="1239" y="436.2">Respiration</text>
<rect x="1232" y="447.5" width="3" height="3" fill="#DE9E00"/><text x="1239" y="453.5">Stress Response</text>
<rect x="1232" y="464.7" width="3" height="3" fill="#007CC9"/><text x="1239" y="470.7">Metabolism of Aromatic Compounds</text>
<rect x="1232" y="482" width="3" height="3" fill="#32882D"/><text x="1239" y="488">Amino Acids and Derivatives</text>
<rect x="1232" y="499.2" width="3" height="3" fill="#7EABE0"/><text x="1239" y="505.2">Sulfur Metabolism</text>
<rect x="1232" y="516.5" width="3" height="3" fill="#FFAE80"/><text x="1239" y="522.5">Phosphorus Metabolism</text>
<rect x="1232" y="533.8" width="3" height="3" fill="#C8C8C8"/><text x="1239" y="539.8">Carbohydrates</text>
</g>
<g id="C-key" class="bx">
<rect x="754.5" y="555" width="467" height="97.5" fill="none" stroke="#333" stroke-width="1.2"/>
<text x="767" y="576.5">From outer to inner circle:</text>
<text x="767" y="602.5"><tspan class="i">Streptomyces</tspan> sp. CH6</text>
<text x="767" y="624"><tspan class="i">S. chiangmaiensis</tspan> TA4<tspan font-size="11.5" dy="-6.5">T</tspan></text>
<text x="767" y="645.5"><tspan class="i">S. evansiae</tspan> DSM 41979<tspan font-size="11.5" dy="-6.5">T</tspan></text>
<text x="998.4" y="599"><tspan class="i">S. mexicanus</tspan> JCM12681<tspan font-size="11.5" dy="-6.5">T</tspan></text>
<text x="998.4" y="620.5"><tspan class="i">S. roseofulvus</tspan> JCM 4334<tspan font-size="11.5" dy="-6.5">T</tspan></text>
<text x="998.4" y="642"><tspan class="i">S. intermedius</tspan> JCM 4483<tspan font-size="11.5" dy="-6.5">T</tspan></text>
</g>
</g>

<!-- ================= PANEL D ================= -->
<g id="panelD">
<text class="lbl" x="770" y="700">D</text>
<g id="venn-sets">
<ellipse id="set-intermedius" cx="1015" cy="946" rx="214" ry="122" transform="rotate(45 1015 946)" fill="#147F21" fill-opacity="0.6"/>
<ellipse id="set-evansiae" cx="1097" cy="877" rx="216" ry="122" transform="rotate(45 1097 877)" fill="#61AADC" fill-opacity="0.6"/>
<ellipse id="set-spheroides" cx="1114" cy="877" rx="216" ry="122" transform="rotate(-45 1114 877)" fill="#FF6B7B" fill-opacity="0.6"/>
<ellipse id="set-ch6" cx="1197" cy="946" rx="214" ry="122" transform="rotate(-45 1197 946)" fill="#FFE16E" fill-opacity="0.6"/>
</g>
<g id="venn-labels" class="vl">
<text x="841" y="704"><tspan class="i">S. evansiae</tspan> DSM 41979<tspan font-size="13" dy="-7">T</tspan></text>
<text x="1096" y="704"><tspan class="i">S. spheroides</tspan> NCIMB 11891<tspan font-size="13" dy="-7">T</tspan></text>
<text x="757" y="1099"><tspan class="i">S. intermedius</tspan> JCM 4483<tspan font-size="13" dy="-7">T</tspan></text>
<text x="1214" y="1098"><tspan class="i">Streptomyces</tspan> sp. CH6</text>
</g>
<g id="venn-counts" class="vn">
<text x="983" y="758">41</text>
<text x="1209" y="758">140</text>
<text x="1106" y="792">161</text>
<text x="943" y="827">99</text>
<text x="1266" y="827">102</text>
<text x="1008" y="884">183</text>
<text x="1203" y="884">458</text>
<text x="886" y="907">67</text>
<text x="1316" y="907">15</text>
<text x="1107" y="942">3156</text>
<text x="974" y="987">540</text>
<text x="1243" y="987">813</text>
<text x="1031" y="1022">100</text>
<text x="1180" y="1022">364</text>
<text x="1104" y="1079">81</text>
</g>
</g>
</g>
</svg>
